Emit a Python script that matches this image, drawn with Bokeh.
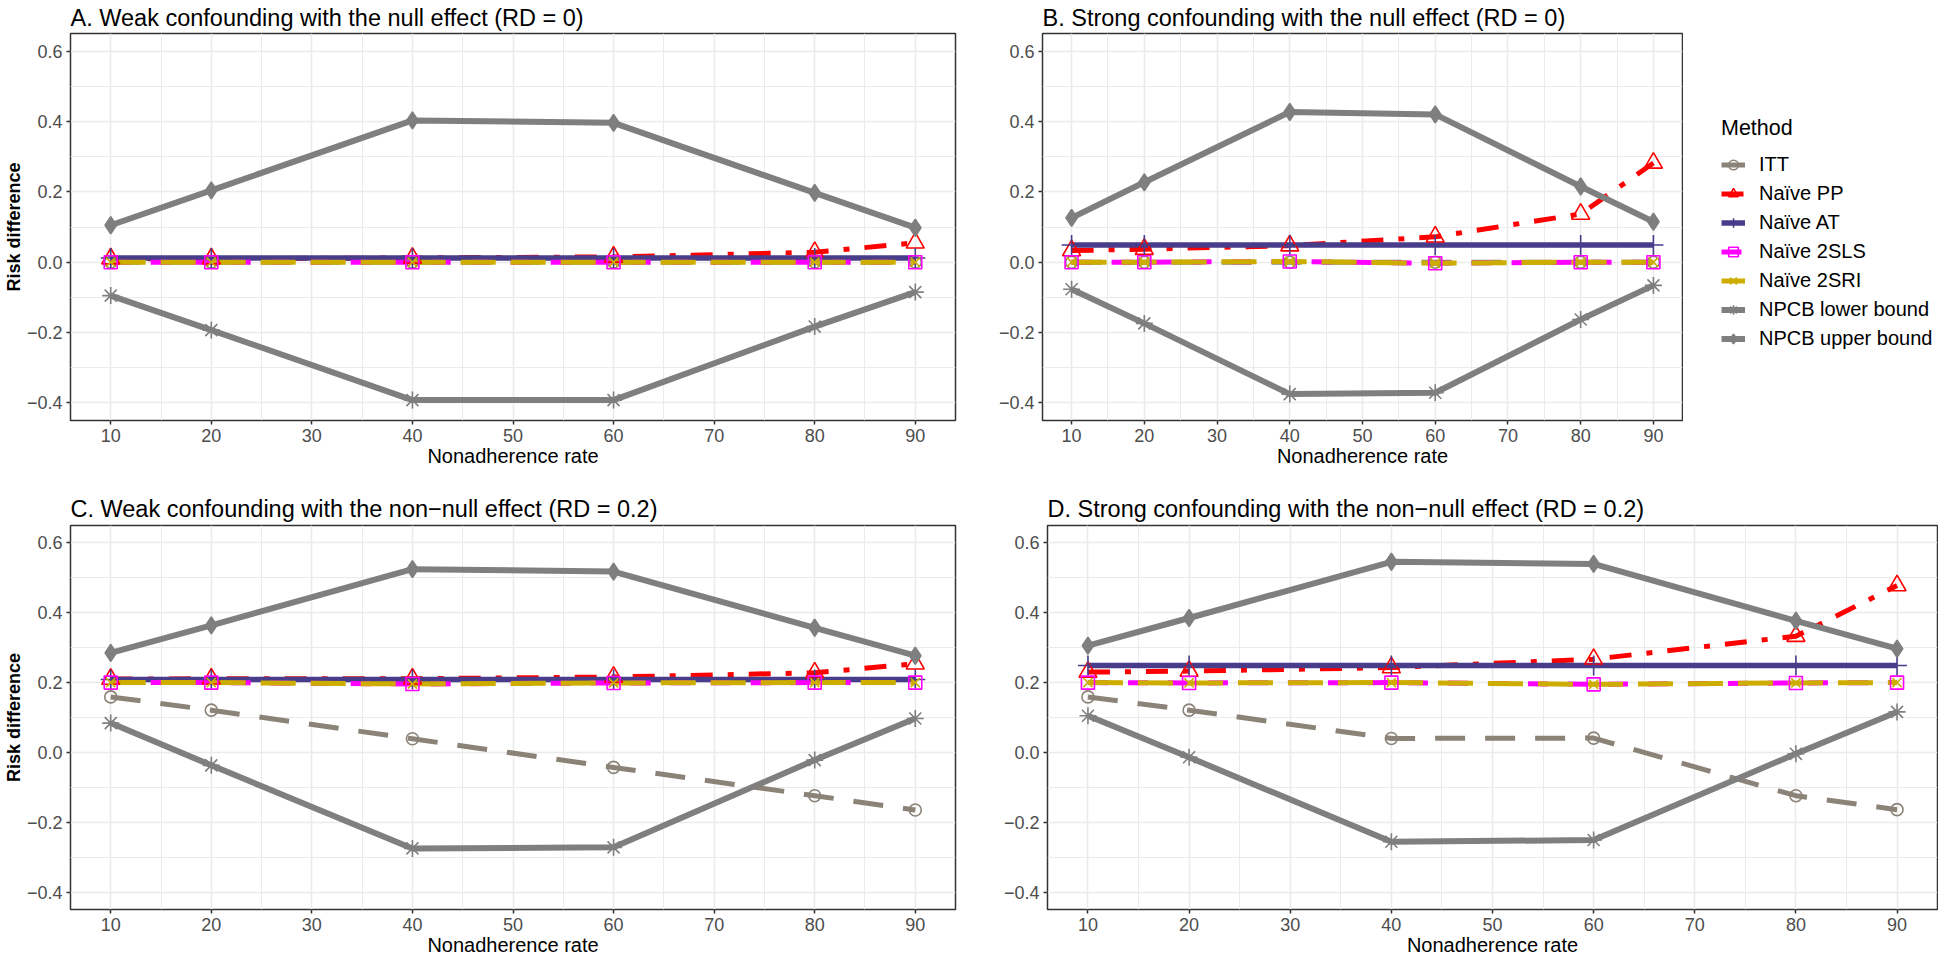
from bokeh.plotting import figure
from bokeh.models import Range1d, FixedTicker, Legend, LegendItem
from bokeh.layouts import column, row
from bokeh.embed import file_html
from bokeh.resources import INLINE

# ---------------- data ----------------
nonadherence_rate = [10, 20, 40, 60, 80, 90]
method_names = ["ITT", "Naïve PP", "Naïve AT", "Naïve 2SLS", "Naïve 2SRI",
                "NPCB lower bound", "NPCB upper bound"]

x_tick_values = [10, 20, 30, 40, 50, 60, 70, 80, 90]
x_minor_values = [15, 25, 35, 45, 55, 65, 75, 85]
y_tick_values = [-0.4, -0.2, 0.0, 0.2, 0.4, 0.6]
y_tick_labels = ["\u22120.4", "\u22120.2", "0.0", "0.2", "0.4", "0.6"]
y_minor_values = [-0.3, -0.1, 0.1, 0.3, 0.5]

title_a = "A. Weak confounding with the null effect (RD = 0)"
title_b = "B. Strong confounding with the null effect (RD = 0)"
title_c = "C. Weak confounding with the non\u2212null effect (RD = 0.2)"
title_d = "D. Strong confounding with the non\u2212null effect (RD = 0.2)"

# Panel A
a_itt = [0.000, 0.000, 0.000, 0.000, 0.000, 0.000]
a_pp = [0.010, 0.010, 0.012, 0.015, 0.028, 0.055]
a_at = [0.012, 0.012, 0.012, 0.012, 0.012, 0.012]
a_2sls = [0.000, 0.000, 0.000, 0.000, 0.000, 0.000]
a_2sri = [0.000, 0.000, 0.000, 0.000, 0.000, 0.000]
a_lower = [-0.095, -0.193, -0.392, -0.392, -0.183, -0.085]
a_upper = [0.105, 0.204, 0.403, 0.396, 0.197, 0.098]

# Panel B
b_itt = [0.000, 0.000, 0.000, 0.000, 0.000, 0.000]
b_pp = [0.033, 0.037, 0.047, 0.072, 0.137, 0.282]
b_at = [0.049, 0.049, 0.049, 0.049, 0.049, 0.049]
b_2sls = [0.000, 0.000, 0.002, -0.003, 0.000, 0.000]
b_2sri = [0.000, 0.000, 0.002, -0.003, 0.000, 0.000]
b_lower = [-0.077, -0.174, -0.375, -0.371, -0.163, -0.066]
b_upper = [0.126, 0.227, 0.427, 0.420, 0.215, 0.115]

# Panel C
c_itt = [0.159, 0.121, 0.039, -0.043, -0.124, -0.165]
c_pp = [0.210, 0.211, 0.211, 0.216, 0.228, 0.254]
c_at = [0.209, 0.209, 0.209, 0.209, 0.209, 0.209]
c_2sls = [0.200, 0.200, 0.196, 0.199, 0.200, 0.200]
c_2sri = [0.200, 0.200, 0.196, 0.199, 0.200, 0.200]
c_lower = [0.084, -0.037, -0.275, -0.272, -0.022, 0.097]
c_upper = [0.285, 0.364, 0.525, 0.518, 0.357, 0.277]

# Panel D
d_itt = [0.159, 0.121, 0.040, 0.041, -0.124, -0.164]
d_pp = [0.230, 0.233, 0.243, 0.267, 0.333, 0.478]
d_at = [0.249, 0.249, 0.249, 0.249, 0.249, 0.249]
d_2sls = [0.200, 0.199, 0.200, 0.195, 0.199, 0.200]
d_2sri = [0.200, 0.199, 0.200, 0.195, 0.199, 0.200]
d_lower = [0.105, -0.014, -0.256, -0.251, -0.004, 0.116]
d_upper = [0.306, 0.385, 0.546, 0.540, 0.377, 0.297]

# ---------------- styles ----------------
STYLE = {
    "ITT": dict(color="#8B8378", dash="30 20", lw=5, marker="circle", size=12, fill=None),
    "Naïve PP": dict(color="#FF0000", dash="22 15 6 15", lw=5, marker="triangle", size=18, fill=None),
    "Naïve AT": dict(color="#483D8B", dash="solid", lw=5.5, marker="cross", size=20, fill=None),
    "Naïve 2SLS": dict(color="#FF00FF", dash="20 20", lw=5, marker="square", size=13, fill=None),
    "Naïve 2SRI": dict(color="#CDAD00", dash="35 15", lw=5, marker="x", size=13, fill=None),
    "NPCB lower bound": dict(color="#7F7F7F", dash="solid", lw=6, marker="asterisk", size=17, fill=None),
    "NPCB upper bound": dict(color="#7F7F7F", dash="solid", lw=6, marker="diamond", size=17, fill="#7F7F7F"),
}

SANS = "Liberation Sans"


def draw_series(p, series):
    lines, points = {}, {}
    for name, ys in zip(method_names, series):
        st = STYLE[name]
        lines[name] = p.line(nonadherence_rate, ys, line_color=st["color"], line_width=st["lw"],
                             line_dash=st["dash"], line_cap="butt", line_join="round")
    for name, ys in zip(method_names, series):
        st = STYLE[name]
        points[name] = p.scatter(nonadherence_rate, ys, marker=st["marker"], size=st["size"],
                                 line_color=st["color"], line_width=1.6,
                                 fill_color=st["fill"])
    return lines, points


def make_panel(title, series, width, height, borders, ylabel, title_standoff):
    p = figure(width=width, height=height,
               x_range=Range1d(6, 94), y_range=Range1d(-0.45, 0.65),
               output_backend="svg", toolbar_location=None,
               min_border_left=borders[0], min_border_right=borders[1],
               min_border_top=borders[2], min_border_bottom=borders[3])
    p.background_fill_color = "white"
    p.border_fill_color = "white"
    p.outline_line_color = "#333333"
    p.outline_line_width = 1.5

    p.title.text = title
    p.title.text_font = SANS
    p.title.text_font_size = "23.5px"
    p.title.text_font_style = "normal"
    p.title.text_color = "black"
    p.title.align = "left"
    p.title.offset = 0
    p.title.standoff = title_standoff

    p.xaxis.ticker = FixedTicker(ticks=x_tick_values, minor_ticks=x_minor_values)
    p.yaxis.ticker = FixedTicker(ticks=y_tick_values, minor_ticks=y_minor_values)
    p.yaxis.major_label_overrides = dict(zip(y_tick_values, y_tick_labels))

    for ax in (p.xaxis, p.yaxis):
        ax.axis_line_color = None
        ax.major_tick_line_color = "#333333"
        ax.major_tick_line_width = 1.5
        ax.major_tick_in = 0
        ax.major_tick_out = 4
        ax.minor_tick_line_color = None
        ax.major_label_text_font = SANS
        ax.major_label_text_font_size = "18px"
        ax.major_label_text_color = "#4D4D4D"
        ax.major_label_standoff = 4

    p.xaxis.axis_label = "Nonadherence rate"
    p.xaxis.axis_label_text_font = SANS
    p.xaxis.axis_label_text_font_size = "20px"
    p.xaxis.axis_label_text_font_style = "normal"
    p.xaxis.axis_label_text_color = "black"
    p.xaxis.axis_label_standoff = 0

    if ylabel:
        p.yaxis.axis_label = ylabel
        p.yaxis.axis_label_text_font = SANS
        p.yaxis.axis_label_text_font_size = "18px"
        p.yaxis.axis_label_text_font_style = "bold"
        p.yaxis.axis_label_text_color = "black"
        p.yaxis.axis_label_standoff = 0

    for g in (p.xgrid, p.ygrid):
        g.grid_line_color = "#EBEBEB"
        g.grid_line_width = 1.6
        g.minor_grid_line_color = "#EBEBEB"
        g.minor_grid_line_width = 1.0

    draw_series(p, series)
    return p


def make_legend_panel(width, height, series):
    p = figure(width=width, height=height, x_range=Range1d(0, 1), y_range=Range1d(0, 1),
               output_backend="svg", toolbar_location=None,
               x_axis_type=None, y_axis_type=None, min_border=0)
    p.outline_line_color = None
    p.background_fill_color = "white"
    p.border_fill_color = "white"
    p.xgrid.visible = False
    p.ygrid.visible = False
    # glyphs kept outside the visible range: only their legend keys are shown
    hidden_x = [x + 200 for x in nonadherence_rate]
    lines, points = {}, {}
    for name, ys in zip(method_names, series):
        st = STYLE[name]
        lines[name] = p.line(hidden_x, ys, line_color=st["color"], line_width=st["lw"],
                             line_dash=st["dash"], line_cap="butt")
        points[name] = p.scatter(hidden_x, ys, marker=st["marker"], size=st["size"],
                                 line_color=st["color"], line_width=1.6, fill_color=st["fill"])
    items = [LegendItem(label=n, renderers=[lines[n], points[n]]) for n in method_names]
    leg = Legend(items=items, location=(38, 69), title="Method")
    leg.border_line_color = None
    leg.background_fill_alpha = 0
    leg.padding = 10
    leg.margin = 0
    leg.spacing = 4
    leg.glyph_width = 24
    leg.glyph_height = 25
    leg.label_height = 25
    leg.label_standoff = 14
    leg.label_text_font = SANS
    leg.label_text_font_size = "20px"
    leg.label_text_color = "black"
    leg.title_text_font = SANS
    leg.title_text_font_size = "21.5px"
    leg.title_text_font_style = "normal"
    leg.title_text_color = "black"
    leg.title_standoff = 11
    p.add_layout(leg)
    return p


series_a = [a_itt, a_pp, a_at, a_2sls, a_2sri, a_lower, a_upper]
series_b = [b_itt, b_pp, b_at, b_2sls, b_2sri, b_lower, b_upper]
series_c = [c_itt, c_pp, c_at, c_2sls, c_2sri, c_lower, c_upper]
series_d = [d_itt, d_pp, d_at, d_2sls, d_2sri, d_lower, d_upper]

H1 = 481
H2 = 478
pA = make_panel(title_a, series_a, 990, H1, (65, 35, 31, 61), "Risk difference", 5)
pB = make_panel(title_b, series_b, 693, H1, (52, 1, 31, 58), None, 5)
pL = make_legend_panel(255, H1, series_b)
pC = make_panel(title_c, series_c, 990, H2, (65, 35, 44, 50), "Risk difference", 8)
pD = make_panel(title_d, series_d, 948, H2, (57, 1, 44, 50), None, 8)

layout = column(row(pA, pB, pL, spacing=0), row(pC, pD, spacing=0), spacing=0)

open("out.html", "w").write(file_html(layout, INLINE))
